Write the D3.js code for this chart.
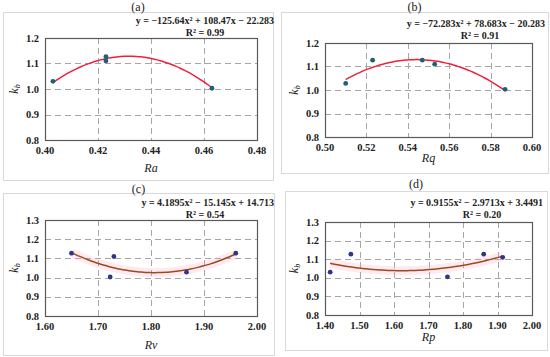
<!DOCTYPE html>
<html>
<head>
<meta charset="utf-8">
<script src="https://cdn.jsdelivr.net/npm/d3@7"></script>
<style>
  body { margin: 0; background: #fff; }
</style>
</head>
<body>
<div id="chart"></div>
<script>
// panel data
const raX = [0.403, 0.423, 0.423, 0.463];
const raY = [1.030, 1.127, 1.110, 1.003];
const raFit = [-125.64, 108.47, -22.283];

const rqX = [0.510, 0.523, 0.547, 0.553, 0.587];
const rqY = [1.028, 1.127, 1.127, 1.110, 1.003];
const rqFit = [-72.283, 78.683, -20.283];

const rvX = [1.650, 1.723, 1.730, 1.867, 1.960];
const rvY = [1.127, 1.003, 1.110, 1.028, 1.127];
const rvFit = [4.1895, -15.145, 14.713];

const rpX = [1.415, 1.475, 1.755, 1.860, 1.915];
const rpY = [1.030, 1.127, 1.005, 1.127, 1.110];
const rpFit = [0.9155, -2.9713, 3.4491];

const panels = [
  { tag: '(a)', xs: raX, ys: raY, fit: raFit, eq: 'y = \u2212125.64x\u00b2 + 108.47x \u2212 22.283', r2: 'R\u00b2 = 0.99',
    xlab: 'Ra', xdom: [0.40, 0.48], xticks: [0.40, 0.42, 0.44, 0.46, 0.48], ydom: [0.8, 1.2],
    frame: [3, 12, 273, 180], plot: [45, 38, 257, 140], titleY: 7, eqY: 21, r2Y: 33, eqRight: 274, r2X: 205, xlabY: 168,
    dot: '#1f5f78', line: '#f0203c', glow: false },
  { tag: '(b)', xs: rqX, ys: rqY, fit: rqFit, eq: 'y = \u221272.283x\u00b2 + 78.683x \u2212 20.283', r2: 'R\u00b2 = 0.91',
    xlab: 'Rq', xdom: [0.50, 0.60], xticks: [0.50, 0.52, 0.54, 0.56, 0.58, 0.60], ydom: [0.8, 1.2],
    frame: [281, 12, 548, 173], plot: [325, 43, 532, 137], titleY: 7, eqY: 24, r2Y: 35.5, eqRight: 545, r2X: 480, xlabY: 158,
    dot: '#1f5f78', line: '#f0203c', glow: false },
  { tag: '(c)', xs: rvX, ys: rvY, fit: rvFit, eq: 'y = 4.1895x\u00b2 \u2212 15.145x + 14.713', r2: 'R\u00b2 = 0.54',
    xlab: 'Rv', xdom: [1.60, 2.00], xticks: [1.60, 1.70, 1.80, 1.90, 2.00], ydom: [0.8, 1.3],
    frame: [3, 193, 274, 355], plot: [45, 220, 257, 316], titleY: 189, eqY: 203, r2Y: 214.5, eqRight: 274, r2X: 205, xlabY: 345,
    dot: '#2e3583', line: '#9c4a1c', glow: true },
  { tag: '(d)', xs: rpX, ys: rpY, fit: rpFit, eq: 'y = 0.9155x\u00b2 \u2212 2.9713x + 3.4491', r2: 'R\u00b2 = 0.20',
    xlab: 'Rp', xdom: [1.40, 2.00], xticks: [1.40, 1.50, 1.60, 1.70, 1.80, 1.90, 2.00], ydom: [0.8, 1.3],
    frame: [285, 191, 547, 350], plot: [325, 222, 532, 315], titleY: 184, eqY: 203, r2Y: 215, eqRight: 543, r2X: 482, xlabY: 337,
    dot: '#2e3583', line: '#9c4a1c', glow: true }
];

const svg = d3.select('#chart').append('svg')
  .attr('width', 550)
  .attr('height', 357)
  .style('font-family', '"Liberation Serif", "DejaVu Serif", serif');

panels.forEach((p) => {
  const g = svg.append('g').attr('fill', '#222');
  const [fx0, fy0, fx1, fy1] = p.frame;
  const [px0, py0, px1, py1] = p.plot;

  // outer frame
  g.append('rect')
    .attr('x', fx0 + 0.5).attr('y', fy0 + 0.5)
    .attr('width', fx1 - fx0).attr('height', fy1 - fy0)
    .attr('fill', 'none').attr('stroke', '#d9d9d9');

  const x = d3.scaleLinear().domain(p.xdom).range([px0, px1]);
  const y = d3.scaleLinear().domain(p.ydom).range([py1, py0]);
  const yticks = d3.range(p.ydom[0], p.ydom[1] + 0.001, 0.1);

  // grid
  g.selectAll('.gx').data(p.xticks.slice(1, -1)).enter().append('line')
    .attr('x1', (d) => Math.round(x(d)) + 0.5).attr('x2', (d) => Math.round(x(d)) + 0.5)
    .attr('y1', py0).attr('y2', py1)
    .attr('stroke', '#a6a6a6').attr('stroke-dasharray', '6,4');
  g.selectAll('.gy').data(yticks.slice(1, -1)).enter().append('line')
    .attr('y1', (d) => Math.round(y(d)) + 0.5).attr('y2', (d) => Math.round(y(d)) + 0.5)
    .attr('x1', px0).attr('x2', px1)
    .attr('stroke', '#a6a6a6').attr('stroke-dasharray', '6,4');

  // plot box
  g.append('rect')
    .attr('x', px0 + 0.5).attr('y', py0 + 0.5)
    .attr('width', px1 - px0).attr('height', py1 - py0)
    .attr('fill', 'none').attr('stroke', '#595959').attr('stroke-width', 1.2);

  // tick labels
  g.selectAll('.tx').data(p.xticks).enter().append('text')
    .attr('x', (d) => x(d)).attr('y', py1 + 14)
    .attr('text-anchor', 'middle').attr('font-size', 10.5).attr('font-weight', 'bold')
    .text((d) => d3.format('.2f')(d));
  g.selectAll('.ty').data(yticks).enter().append('text')
    .attr('x', px0 - 6).attr('y', (d) => y(d) + 3.5)
    .attr('text-anchor', 'end').attr('font-size', 10.5).attr('font-weight', 'bold')
    .text((d) => d3.format('.1f')(d));

  // trend line from displayed coefficients
  const [a, b, c] = p.fit;
  const xmin = d3.min(p.xs), xmax = d3.max(p.xs);
  const curve = d3.range(0, 41).map((i) => {
    const xv = xmin + (xmax - xmin) * i / 40;
    return [xv, a * xv * xv + b * xv + c];
  });
  const line = d3.line().x((d) => x(d[0])).y((d) => y(d[1])).curve(d3.curveBasis);
  if (p.glow) {
    g.append('path').attr('d', line(curve))
      .attr('fill', 'none').attr('stroke', '#ff9ec0').attr('stroke-opacity', 0.22).attr('stroke-width', 9);
  }
  g.append('path').attr('d', line(curve))
    .attr('fill', 'none').attr('stroke', p.line).attr('stroke-width', 1.5);

  // points
  g.selectAll('.pt').data(p.xs).enter().append('circle')
    .attr('cx', (d) => x(d)).attr('cy', (d, i) => y(p.ys[i]))
    .attr('r', 2.4).attr('fill', p.dot);

  // titles and labels
  g.append('text').attr('x', (fx0 + fx1) / 2).attr('y', p.titleY + 4)
    .attr('text-anchor', 'middle').attr('font-size', 12).text(p.tag);
  g.append('text').attr('x', p.eqRight).attr('y', p.eqY + 3)
    .attr('text-anchor', 'end').attr('font-size', 10).attr('font-weight', 'bold').text(p.eq);
  g.append('text').attr('x', p.r2X).attr('y', p.r2Y + 3)
    .attr('text-anchor', 'middle').attr('font-size', 10).attr('font-weight', 'bold').text(p.r2);
  g.append('text').attr('x', (px0 + px1) / 2).attr('y', p.xlabY + 4)
    .attr('text-anchor', 'middle').attr('font-size', 12).attr('font-style', 'italic').text(p.xlab);

  const yl = g.append('text')
    .attr('transform', 'translate(' + (px0 - 27) + ',' + ((py0 + py1) / 2) + ') rotate(-90)')
    .attr('text-anchor', 'middle').attr('font-size', 12).attr('font-style', 'italic');
  yl.append('tspan').text('k');
  yl.append('tspan').attr('font-size', 8).attr('dy', 2).text('b');
});
</script>
</body>
</html>
